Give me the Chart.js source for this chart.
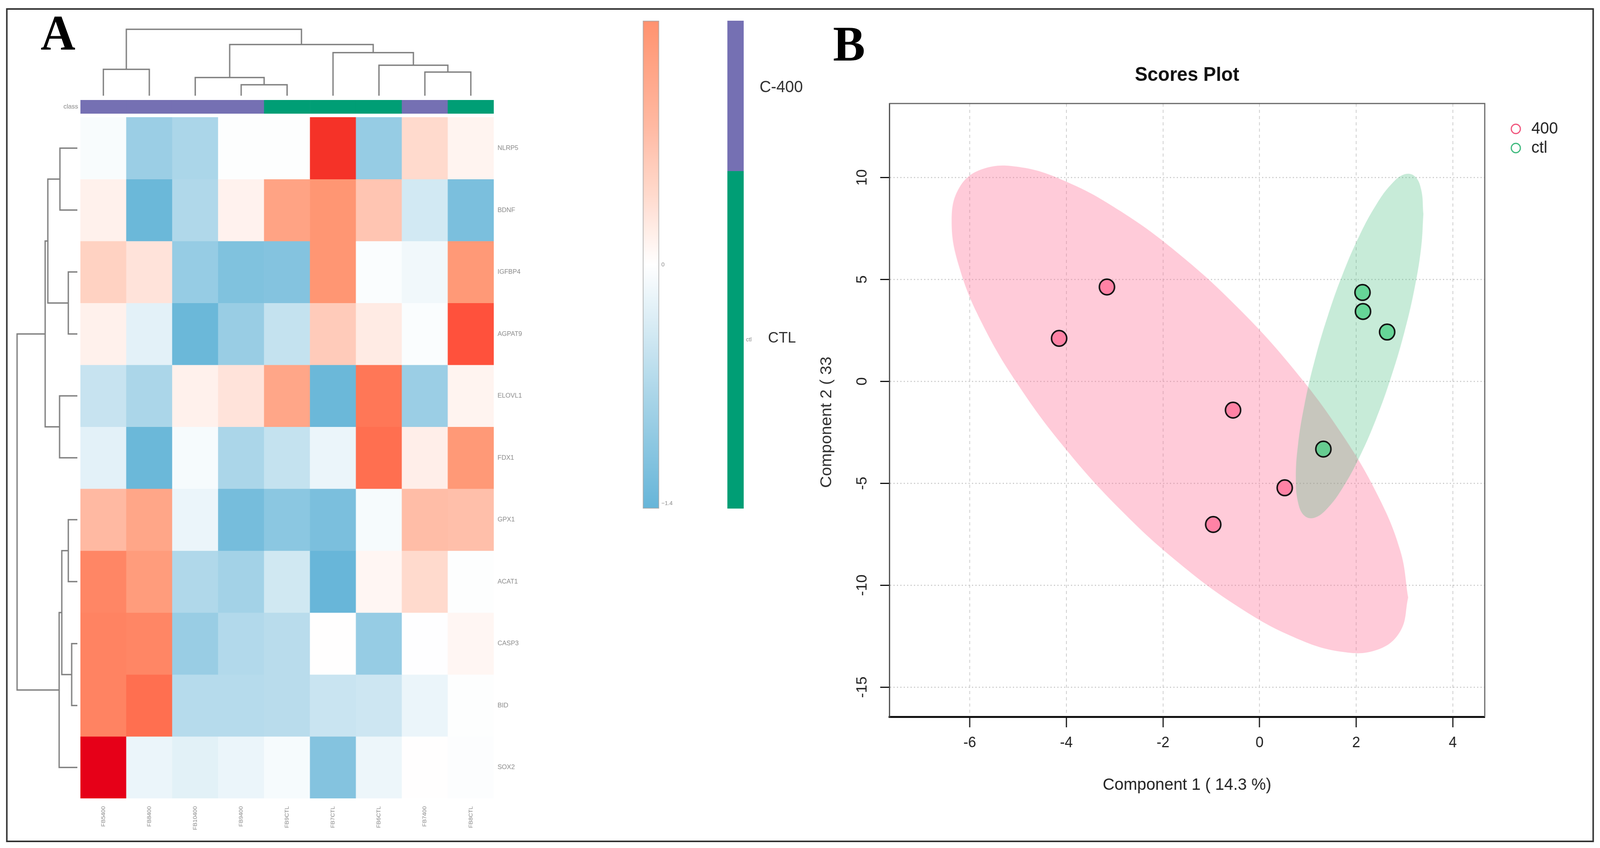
<!DOCTYPE html>
<html>
<head>
<meta charset="utf-8">
<title>Heatmap and scores plot</title>
<script src="https://cdn.jsdelivr.net/npm/chart.js@4/dist/chart.umd.min.js"></script>
<style>
  html, body { margin: 0; background: #fff; overflow: hidden; }
  #stage { position: absolute; left: 0; top: 0; width: 4219px; height: 2171px; transform-origin: 0 0; }
  canvas { position: absolute; }
  .frame { position: absolute; left: 16px; top: 21px; width: 4179px; height: 2127px; border: 4px solid #333; }
  .txt { position: absolute; transform: translate(-50%, -50%); white-space: nowrap; line-height: 1; font-family: "Liberation Sans", sans-serif; color: #333; }
  .panel { font-family: "Liberation Serif", serif; font-weight: bold; font-size: 127px; color: #000; }
</style>
</head>
<body>
<div id="stage">
  <div class="frame"></div>
  <div class="txt panel" style="left:153px;top:84px">A</div>
  <div class="txt panel" style="left:2239px;top:112px">B</div>
  <div class="txt" style="left:2060px;top:222px;font-size:42px">C-400</div>
  <div class="txt" style="left:2062px;top:863px;font-size:39px">CTL</div>
  <div class="txt" style="left:2178px;top:1081px;font-size:42px;transform:translate(-50%,-50%) rotate(-90deg)">Component 2 ( 33</div>
</div>

<script>
// heatmap
const samples = ["FB5400", "FB8400", "FB10400", "FB9400", "FB9CTL", "FB7CTL", "FB6CTL", "FB7400", "FB8CTL"];
const sampleClass = ["400", "400", "400", "400", "ctl", "ctl", "ctl", "400", "ctl"];
const genes = ["NLRP5", "BDNF", "IGFBP4", "AGPAT9", "ELOVL1", "FDX1", "GPX1", "ACAT1", "CASP3", "BID", "SOX2"];
const nlrp5 = [-0.06, -0.9, -0.75, -0.02, -0.02, 2.8, -0.95, 0.4, 0.12];
const bdnf = [0.15, -1.35, -0.7, 0.14, 1.15, 1.35, 0.65, -0.4, -1.2];
const igfbp4 = [0.5, 0.3, -0.95, -1.15, -1.12, 1.35, -0.04, -0.12, 1.3];
const agpat9 = [0.15, -0.25, -1.35, -0.92, -0.52, 0.58, 0.22, -0.04, 2.2];
const elovl1 = [-0.5, -0.75, 0.15, 0.3, 1.1, -1.35, 1.75, -0.9, 0.12];
const fdx1 = [-0.25, -1.35, -0.08, -0.75, -0.52, -0.18, 1.85, 0.18, 1.3];
const gpx1 = [0.8, 1.1, -0.18, -1.25, -1.05, -1.2, -0.08, 0.75, 0.73];
const acat1 = [1.55, 1.25, -0.7, -0.82, -0.42, -1.38, 0.1, 0.4, -0.02];
const casp3 = [1.6, 1.55, -0.92, -0.68, -0.62, 0.01, -0.95, -0.01, 0.1];
const bid = [1.6, 1.85, -0.65, -0.65, -0.62, -0.48, -0.44, -0.18, -0.02];
const sox2 = [3.6, -0.18, -0.26, -0.18, -0.08, -1.12, -0.16, 0.01, -0.03];
const heatRows = [nlrp5, bdnf, igfbp4, agpat9, elovl1, fdx1, gpx1, acat1, casp3, bid, sox2];

// dendrograms, each merge is [node, node, height], nodes after the leaves are earlier merges
const sampleMerges = [[0, 1, 3.55], [3, 4, 1.47], [2, 10, 2.45], [7, 8, 3.18], [6, 12, 4.1], [5, 13, 5.8], [11, 14, 6.9], [9, 15, 8.95]];
const geneMerges = [[0, 1, 2.42], [2, 3, 1.26], [11, 12, 4.1], [4, 5, 2.47], [13, 14, 4.47], [6, 7, 1.26], [8, 9, 0.79], [16, 17, 2.16], [18, 10, 2.53], [15, 19, 8.37]];

// colour keys
const scaleRange = [-1.4, 1.4];
const scaleTicks = [0, -1.37];
const classShares = [0.308, 0.692];
const classNames = ["C-400", "ctl"];

// scores plot
const x400 = [-3.16, -4.15, -0.55, 0.52, -0.96];
const y400 = [4.63, 2.11, -1.41, -5.22, -7.02];
const xCtl = [2.13, 2.14, 2.64, 1.32];
const yCtl = [4.36, 3.43, 2.42, -3.32];
const ellipse400X = [3.075, 2.914, 2.442, 1.691, 0.713, -0.427, -1.65, -2.873, -4.013, -4.991, -5.742, -6.214, -6.375, -6.214, -5.742, -4.991, -4.013, -2.873, -1.65, -0.427, 0.713, 1.691, 2.442, 2.914, 3.075];
const ellipse400Y = [-10.6, -8.32, -5.57, -2.54, 0.58, 3.56, 6.21, 8.34, 9.81, 10.52, 10.41, 9.51, 7.86, 5.58, 2.83, -0.2, -3.32, -6.31, -8.95, -11.08, -12.55, -13.26, -13.16, -12.25, -10.6];
const ellipseCtlX = [3.39, 3.345, 3.213, 3.003, 2.73, 2.412, 2.07, 1.728, 1.41, 1.137, 0.927, 0.795, 0.75, 0.795, 0.927, 1.137, 1.41, 1.728, 2.07, 2.412, 2.73, 3.003, 3.213, 3.345, 3.39];
const ellipseCtlY = [8.21, 9.4, 10.06, 10.16, 9.68, 8.66, 7.17, 5.31, 3.2, 1.0, -1.16, -3.11, -4.74, -5.93, -6.59, -6.69, -6.21, -5.19, -3.7, -1.84, 0.27, 2.47, 4.63, 6.59, 8.21];
const scoreTicksX = [-6, -4, -2, 0, 2, 4];
const scoreTicksY = [-15, -10, -5, 0, 5, 10];

// the window can come up narrower than the figure, squeeze the whole stage to fit
const stage = document.getElementById("stage");
stage.style.transform = `scaleX(${window.innerWidth / 4219})`;

const sansFont = "'Liberation Sans', sans-serif";
Chart.defaults.font.family = sansFont;
Chart.defaults.animation = false;
Chart.defaults.responsive = false;
Chart.defaults.devicePixelRatio = 1;
Chart.defaults.layout.autoPadding = false;
Chart.defaults.plugins.legend.display = false;
Chart.defaults.plugins.tooltip.enabled = false;

const heatStops = [
  [-1.4, [102, 181, 216]], [-0.7, [176, 216, 234]], [0, [255, 255, 255]], [0.4, [255, 218, 205]],
  [0.8, [255, 185, 162]], [1.35, [255, 150, 115]], [1.85, [255, 111, 80]], [2.2, [255, 81, 60]],
  [2.8, [245, 50, 40]], [3.6, [230, 0, 24]],
];

function heatColor(v) {
  for (let i = 1; i < heatStops.length; i++) {
    if (v <= heatStops[i][0]) {
      const [a, ca] = heatStops[i - 1];
      const [b, cb] = heatStops[i];
      const t = Math.max(0, (v - a) / (b - a));
      return `rgb(${ca.map((c, k) => Math.round(c + (cb[k] - c) * t)).join(",")})`;
    }
  }
  return "rgb(230,0,24)";
}

function addCanvas(left, top, width, height) {
  const c = document.createElement("canvas");
  c.width = width;
  c.height = height;
  c.style.left = left + "px";
  c.style.top = top + "px";
  stage.appendChild(c);
  return c;
}

const classColor = (name) => (name === "ctl" ? "#009e75" : "#7570b3");
const hiddenAxis = (extra) => ({ display: false, ...extra });

// keep the axis at a set size, so the plot area lands where it should
const fixWidth = (w) => (s) => {
  s.width = w;
  s.paddingTop = s.paddingBottom = 0;
};
const fixHeight = (h) => (s) => {
  s.height = h;
  s.paddingLeft = s.paddingRight = 0;
};

// heatmap cells: one stacked dataset per gene
new Chart(addCanvas(212, 300, 1190, 1850), {
  type: "bar",
  data: {
    labels: samples,
    datasets: heatRows.map((row, i) => ({
      label: genes[i],
      data: row.map(() => 1),
      backgroundColor: row.map(heatColor),
      barPercentage: 1,
      categoryPercentage: 1,
      borderWidth: 0,
    })),
  },
  options: {
    scales: {
      x: {
        stacked: true,
        grid: { display: false },
        border: { display: false },
        afterFit: fixHeight(106),
        ticks: { minRotation: 90, maxRotation: 90, autoSkip: false, padding: 12, color: "#888", font: { size: 15 } },
      },
      y: {
        stacked: true,
        position: "right",
        reverse: true,
        min: 0,
        max: genes.length,
        grid: { display: false, drawTicks: false },
        border: { display: false },
        afterFit: fixWidth(100),
        afterBuildTicks: (s) => { s.ticks = genes.map((g, i) => ({ value: i + 0.5 })); },
        ticks: {
          padding: 10,
          color: "#888",
          font: { size: 17 },
          callback: (v) => genes[v - 0.5],
        },
      },
    },
  },
});

// class strip above the heatmap
new Chart(addCanvas(150, 256, 1152, 35), {
  type: "bar",
  data: {
    labels: samples,
    datasets: [{
      data: samples.map(() => 1),
      backgroundColor: sampleClass.map(classColor),
      barPercentage: 1,
      categoryPercentage: 1,
    }],
  },
  options: {
    scales: {
      x: hiddenAxis(),
      y: {
        min: 0,
        max: 1,
        grid: { display: false, drawTicks: false },
        border: { display: false },
        afterFit: fixWidth(62),
        afterBuildTicks: (s) => { s.ticks = [{ value: 0.5 }]; },
        ticks: { padding: 6, color: "#888", font: { size: 17 }, callback: () => "class" },
      },
    },
  },
});

function treeLinks(leafCount, merges) {
  const pos = [];
  const height = [];
  for (let i = 0; i < leafCount; i++) {
    pos.push(i + 0.5);
    height.push(0);
  }
  return merges.map(([a, b, h]) => {
    pos.push((pos[a] + pos[b]) / 2);
    height.push(h);
    return [[pos[a], height[a]], [pos[a], h], [pos[b], h], [pos[b], height[b]]];
  });
}

function treeDataset(points) {
  return { data: points, showLine: true, borderColor: "#808080", borderWidth: 3.5, pointRadius: 0, tension: 0 };
}

// sample dendrogram
new Chart(addCanvas(212, 55, 1090, 190), {
  type: "scatter",
  data: {
    datasets: treeLinks(samples.length, sampleMerges).map((link) => treeDataset(link.map(([p, h]) => ({ x: p, y: h })))),
  },
  options: {
    scales: { x: hiddenAxis({ min: 0, max: samples.length }), y: hiddenAxis({ min: 0, max: 10 }) },
  },
});

// gene dendrogram
new Chart(addCanvas(14, 300, 190, 1744), {
  type: "scatter",
  data: {
    datasets: treeLinks(genes.length, geneMerges).map((link) => treeDataset(link.map(([p, h]) => ({ x: h, y: p })))),
  },
  options: {
    scales: {
      x: hiddenAxis({ min: 0, max: 10, reverse: true }),
      y: hiddenAxis({ min: 0, max: genes.length, reverse: true }),
    },
  },
});

// colour scale
new Chart(addCanvas(1695, 33, 130, 1289), {
  type: "bar",
  data: {
    labels: ["z"],
    datasets: [{
      data: [scaleRange],
      barPercentage: 1,
      categoryPercentage: 1,
      borderWidth: 2,
      borderColor: "#aaa",
      borderSkipped: false,
      backgroundColor: (c) => {
        const area = c.chart.chartArea;
        if (!area) return "#fff";
        const g = c.chart.ctx.createLinearGradient(0, area.bottom, 0, area.top);
        for (let i = 0; i <= 28; i++) {
          g.addColorStop(i / 28, heatColor(scaleRange[0] + (i / 28) * (scaleRange[1] - scaleRange[0])));
        }
        return g;
      },
    }],
  },
  options: {
    layout: { padding: { top: 20, bottom: 20 } },
    scales: {
      x: hiddenAxis(),
      y: {
        position: "right",
        min: scaleRange[0],
        max: scaleRange[1],
        grid: { display: false, drawTicks: false },
        border: { display: false },
        afterFit: fixWidth(87),
        afterBuildTicks: (s) => { s.ticks = scaleTicks.map((v) => ({ value: v })); },
        ticks: {
          padding: 6,
          color: "#888",
          font: { size: 15 },
          callback: (v) => (v === 0 ? "0" : "\u2212" + Math.abs(v).toFixed(1)),
        },
      },
    },
  },
});

// class key
new Chart(addCanvas(1918, 53, 100, 1249), {
  type: "bar",
  data: {
    labels: ["class"],
    datasets: classShares.map((v, i) => ({
      label: classNames[i],
      data: [v],
      backgroundColor: classColor(classNames[i]),
      barPercentage: 1,
      categoryPercentage: 1,
    })),
  },
  options: {
    scales: {
      x: hiddenAxis({ stacked: true }),
      y: {
        stacked: true,
        position: "right",
        reverse: true,
        min: 0,
        max: 1,
        grid: { display: false, drawTicks: false },
        border: { display: false },
        afterFit: fixWidth(57),
        afterBuildTicks: (s) => { s.ticks = [{ value: classShares[0] + classShares[1] / 2 }]; },
        ticks: { padding: 6, color: "#888", font: { size: 15 }, callback: () => "ctl" },
      },
    },
  },
});

// scores plot
const toPoints = (xs, ys) => xs.map((x, i) => ({ x, y: ys[i] }));

const plotBox = {
  id: "plotBox",
  afterDatasetsDraw(chart) {
    const { ctx, chartArea: a } = chart;
    ctx.save();
    ctx.strokeStyle = "#666";
    ctx.lineWidth = 3;
    ctx.beginPath();
    ctx.moveTo(a.left, a.top);
    ctx.lineTo(a.right, a.top);
    ctx.lineTo(a.right, a.bottom);
    ctx.stroke();
    ctx.restore();
  },
};

function ellipseDataset(label, xs, ys, color) {
  return {
    label,
    data: toPoints(xs, ys),
    showLine: true,
    fill: "shape",
    tension: 0.4,
    borderWidth: 0,
    borderColor: "rgba(0,0,0,0)",
    backgroundColor: color,
    pointRadius: 0,
  };
}

function pointsDataset(label, xs, ys, color) {
  return {
    label,
    data: toPoints(xs, ys),
    pointRadius: 20,
    pointBorderWidth: 4,
    pointBorderColor: "#111",
    pointBackgroundColor: color,
  };
}

new Chart(addCanvas(2245, 163, 1690, 1873), {
  type: "scatter",
  data: {
    datasets: [
      pointsDataset("400", x400, y400, "#ff82a5"),
      pointsDataset("ctl", xCtl, yCtl, "rgba(70,205,130,0.75)"),
      ellipseDataset("ctl region", ellipseCtlX, ellipseCtlY, "rgba(70,190,125,0.3)"),
      ellipseDataset("400 region", ellipse400X, ellipse400Y, "rgba(255,105,145,0.35)"),
    ],
  },
  plugins: [plotBox],
  options: {
    layout: { padding: { right: 20 } },
    plugins: {
      title: {
        display: true,
        fullSize: false,
        text: "Scores Plot",
        color: "#111",
        font: { size: 50, weight: "bold" },
        padding: { top: 0, bottom: 42 },
      },
    },
    scales: {
      x: {
        min: -7.665,
        max: 4.66,
        afterFit: fixHeight(201),
        afterBuildTicks: (s) => { s.ticks = scoreTicksX.map((v) => ({ value: v })); },
        grid: { color: "#ccc", lineWidth: 2, tickColor: "#111", tickWidth: 3, tickLength: 27, tickBorderDash: [] },
        border: { color: "#111", width: 5, dash: [8, 8] },
        ticks: { padding: 18, color: "#222", font: { size: 38 }, maxRotation: 0 },
        title: { display: true, text: "Component 1 ( 14.3 %)", color: "#222", font: { size: 43 }, padding: 0 },
      },
      y: {
        min: -16.45,
        max: 13.63,
        afterFit: fixWidth(100),
        afterBuildTicks: (s) => { s.ticks = scoreTicksY.map((v) => ({ value: v })); },
        grid: { color: "#ccc", lineWidth: 3, tickColor: "#111", tickWidth: 3, tickLength: 24, tickBorderDash: [] },
        border: { color: "#444", width: 3, dash: [3, 6] },
        ticks: { padding: 19, minRotation: 90, maxRotation: 90, crossAlign: "center", color: "#222", font: { size: 38 } },
      },
    },
  },
});

// legend of the scores plot
new Chart(addCanvas(3970, 302, 220, 110), {
  type: "scatter",
  data: {
    datasets: [
      { label: "400", data: [], backgroundColor: "rgba(0,0,0,0)", borderColor: "#f0527a", borderWidth: 3 },
      { label: "ctl", data: [], backgroundColor: "rgba(0,0,0,0)", borderColor: "#3ab87a", borderWidth: 3 },
    ],
  },
  options: {
    plugins: {
      legend: {
        display: true,
        position: "left",
        align: "start",
        maxWidth: 210,
        labels: {
          usePointStyle: true,
          pointStyle: "circle",
          boxHeight: 17,
          padding: 7,
          color: "#222",
          font: { size: 42, lineHeight: 1 },
        },
      },
    },
    scales: { x: hiddenAxis(), y: hiddenAxis() },
  },
});
</script>
</body>
</html>
